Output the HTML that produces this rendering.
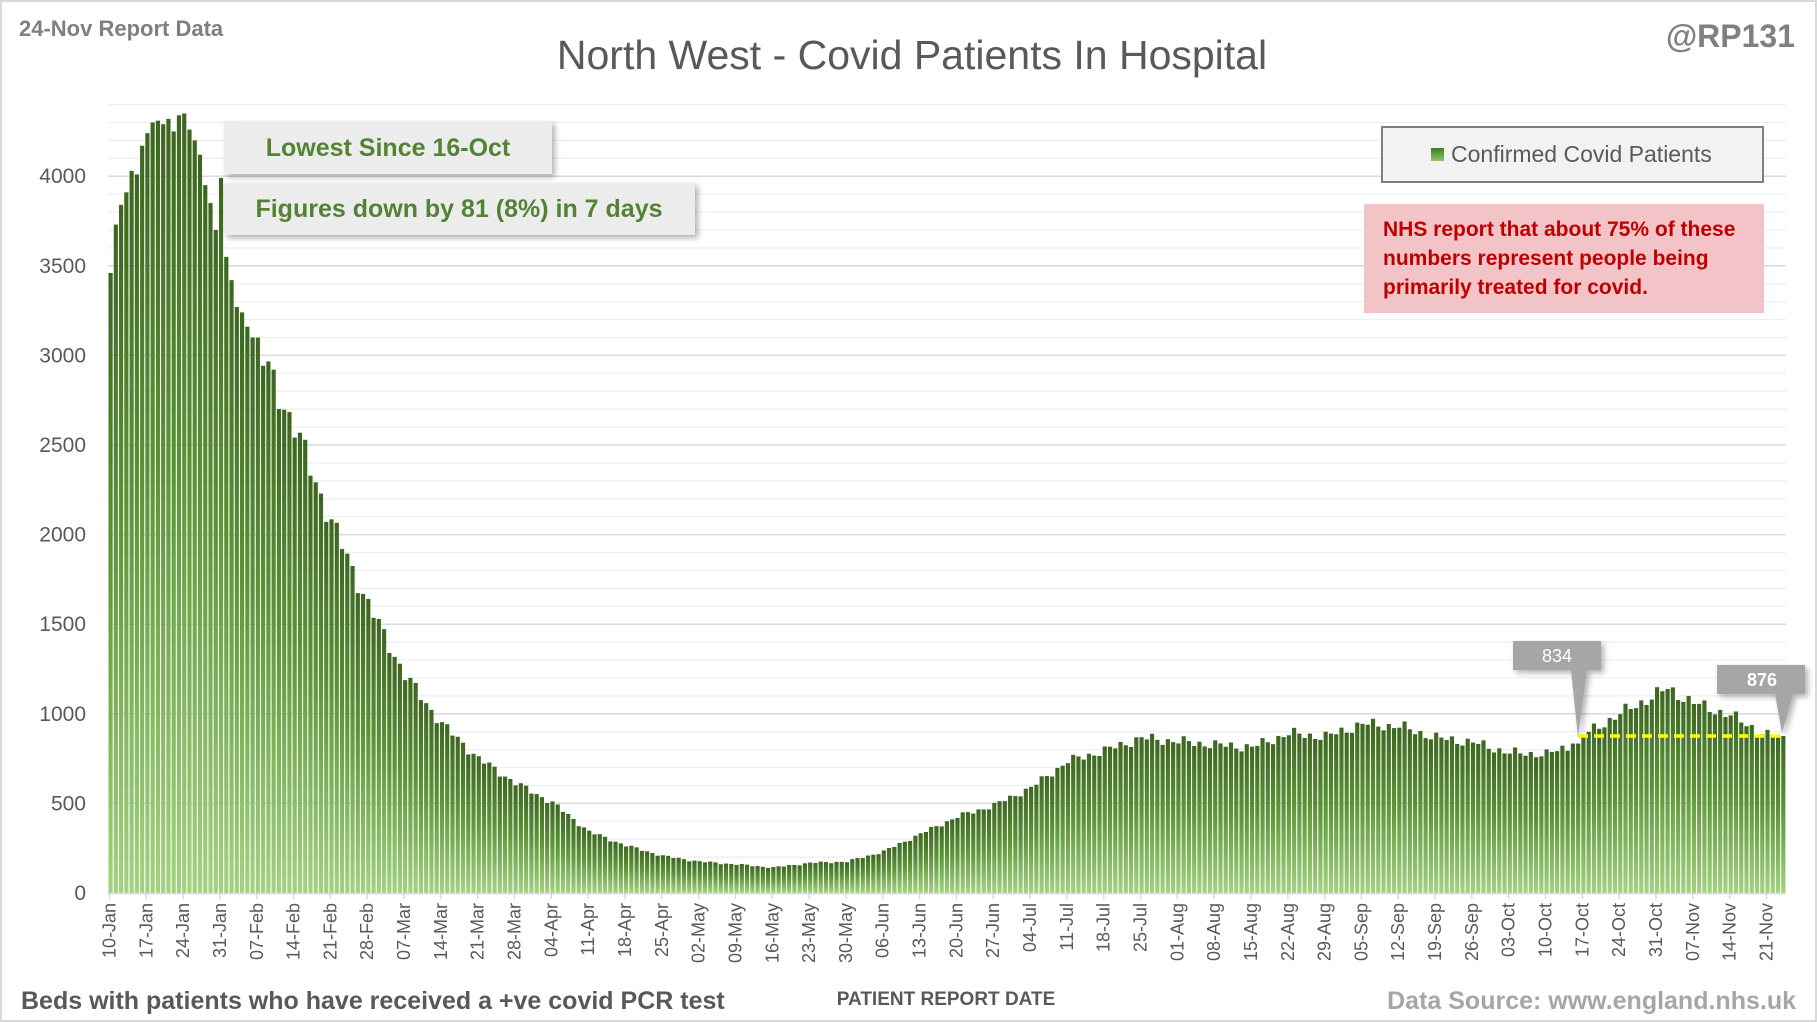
<!DOCTYPE html>
<html><head><meta charset="utf-8">
<style>
html,body{margin:0;padding:0;background:#fff;}
body{width:1817px;height:1022px;overflow:hidden;position:relative;font-family:"Liberation Sans",sans-serif;}
</style></head>
<body>
<svg id="c" width="1817" height="1022" xmlns="http://www.w3.org/2000/svg" style="position:absolute;left:0;top:0">
<defs>
<linearGradient id="g" x1="0" y1="0" x2="0" y2="1">
<stop offset="0" stop-color="#3c6620"/>
<stop offset="0.45" stop-color="#5a9336"/>
<stop offset="1" stop-color="#a3d380"/>
</linearGradient>
<linearGradient id="lg" x1="0" y1="0" x2="0" y2="1">
<stop offset="0" stop-color="#3f7a25"/>
<stop offset="1" stop-color="#8cc865"/>
</linearGradient>
<filter id="sh" x="-10%" y="-20%" width="130%" height="160%"><feDropShadow dx="3" dy="3" stdDeviation="3" flood-color="#000" flood-opacity="0.3"/></filter>
</defs>
<rect x="1" y="1" width="1815" height="1020" fill="#fff" stroke="#d9d9d9" stroke-width="2"/>
<g id="grid"></g>
<g id="bars"></g>
<g id="ticks"></g>
<text x="19" y="36" font-size="22" font-weight="bold" fill="#7f7f7f">24-Nov Report Data</text>
<text x="912" y="69" font-size="41" fill="#595959" text-anchor="middle">North West - Covid Patients In Hospital</text>
<text x="1795" y="47" font-size="32" font-weight="bold" fill="#808080" text-anchor="end">@RP131</text>
<rect x="1382" y="127" width="381" height="55" fill="#f2f2f2" stroke="#7f7f7f" stroke-width="2"/>
<rect x="1431" y="148" width="13" height="13" fill="url(#lg)"/>
<text x="1451" y="162" font-size="23" fill="#595959">Confirmed Covid Patients</text>
<rect x="1364" y="204" width="400" height="109" fill="#f2c4c8"/>
<text font-size="21" font-weight="bold" fill="#c00000"><tspan x="1383" y="236">NHS report that about 75% of these</tspan><tspan x="1383" y="265">numbers represent people being</tspan><tspan x="1383" y="294">primarily treated for covid.</tspan></text>
<g filter="url(#sh)">
<rect x="224" y="121" width="328" height="53" fill="#ececec"/>
<rect x="224" y="183" width="471" height="52" fill="#ececec"/>
</g>
<text x="388" y="156" font-size="25" font-weight="bold" fill="#548235" text-anchor="middle">Lowest Since 16-Oct</text>
<text x="459" y="217" font-size="25" font-weight="bold" fill="#548235" text-anchor="middle">Figures down by 81 (8%) in 7 days</text>
<line x1="1578" y1="736" x2="1782" y2="736" stroke="#ffff00" stroke-width="3.5" stroke-dasharray="10,6"/>
<g filter="url(#sh)" fill="#a6a6a6">
<path d="M1513,641 H1601 V670 H1587 L1578,737 L1571,670 H1513 Z"/>
<path d="M1717,665 H1805 V694 H1793 L1782,733 L1775,694 H1717 Z"/>
</g>
<text x="1557" y="662" font-size="18" fill="#fff" text-anchor="middle">834</text>
<text x="1762" y="686" font-size="18" font-weight="bold" fill="#fff" text-anchor="middle">876</text>
<text x="21" y="1009" font-size="25" font-weight="bold" fill="#595959">Beds with patients who have received a +ve covid PCR test</text>
<text x="946" y="1005" font-size="19" font-weight="bold" fill="#595959" text-anchor="middle">PATIENT REPORT DATE</text>
<text x="1796" y="1009" font-size="25" font-weight="bold" fill="#a6a6a6" text-anchor="end">Data Source: www.england.nhs.uk</text>
</svg>
<script>
(function(){
var NS="http://www.w3.org/2000/svg";
function el(t,a,p,txt){var e=document.createElementNS(NS,t);for(var k in a)e.setAttribute(k,a[k]);if(txt!=null)e.textContent=txt;p.appendChild(e);return e;}
var y0=893,sc=0.1792,x0=108,x1=1786,N=319,w=(x1-x0)/N;
var grid=document.getElementById('grid');
for(var v=100;v<=4400;v+=100){var y=y0-v*sc;el('line',{x1:x0,x2:x1,y1:y,y2:y,stroke:(v%500==0)?'#d9d9d9':'#eeeeee','stroke-width':(v%500==0)?1.5:1.2},grid);}
for(var v=0;v<=4000;v+=500){el('text',{x:86,y:y0-v*sc+7,'font-size':21,fill:'#595959','text-anchor':'end'},grid,String(v));}
var early=[3460,3730,3840,3910,4030,4010,4170,4240,4300,4310,4290,4320,4250,4340,4350,4260,4200,4120,3950,3850,3700,3990,3550,3420,3270,3240,3160,3100];
var A=[[27,3100],[35,2600],[42,2070],[49,1610],[56,1215],[63,943],[70,750],[77,614],[84,504],[91,342],[98,265],[105,207],[112,175],[119,160],[126,142],[133,168],[140,175],[147,232],[154,330],[161,426],[168,490],[175,588],[182,736],[189,795],[196,865],[203,846],[210,827],[217,814],[224,890],[231,872],[238,943],[245,930],[252,866],[259,840],[266,782],[273,775],[279,834],[280,880],[287,1000],[294,1110],[296,1140],[301,1060],[308,990],[315,880],[318,876]];
var d=[];
for(var i=0;i<N;i++){
 if(i<early.length){d.push(early[i]);continue;}
 var j=0;while(j<A.length-1&&A[j+1][0]<i)j++;
 var a=A[j],b=A[Math.min(j+1,A.length-1)];
 var t=b[0]==a[0]?0:(i-a[0])/(b[0]-a[0]);
 var v=a[1]+(b[1]-a[1])*t;
 if(i<279||i>280&&i<318) v*=1+0.025*Math.sin(i*2.1)+0.015*Math.sin(i*0.9);
 d.push(v);
}
d[278]=834;d[318]=876;
var bars=document.getElementById('bars');
for(var i=0;i<N;i++){var h=d[i]*sc;el('rect',{x:(x0+i*w+0.5).toFixed(2),y:(y0-h).toFixed(2),width:(w-1.1).toFixed(2),height:h.toFixed(2),fill:'url(#g)'},bars);}
var tk=document.getElementById('ticks');
el('line',{x1:x0,x2:x1,y1:y0+0.5,y2:y0+0.5,stroke:'#d9d9d9','stroke-width':1.5},tk);
var labels=['10-Jan','17-Jan','24-Jan','31-Jan','07-Feb','14-Feb','21-Feb','28-Feb','07-Mar','14-Mar','21-Mar','28-Mar','04-Apr','11-Apr','18-Apr','25-Apr','02-May','09-May','16-May','23-May','30-May','06-Jun','13-Jun','20-Jun','27-Jun','04-Jul','11-Jul','18-Jul','25-Jul','01-Aug','08-Aug','15-Aug','22-Aug','29-Aug','05-Sep','12-Sep','19-Sep','26-Sep','03-Oct','10-Oct','17-Oct','24-Oct','31-Oct','07-Nov','14-Nov','21-Nov'];
for(var k=0;k<labels.length;k++){var x=x0+k*7*w+1.5;
 el('line',{x1:x,x2:x,y1:y0,y2:y0+6,stroke:'#d9d9d9','stroke-width':1.5},tk);
 el('text',{x:0,y:0,'font-size':18,fill:'#595959','text-anchor':'end',transform:'translate('+(x+6)+','+(y0+10)+') rotate(-90)'},tk,labels[k]);}
})();
</script>
</body></html>
